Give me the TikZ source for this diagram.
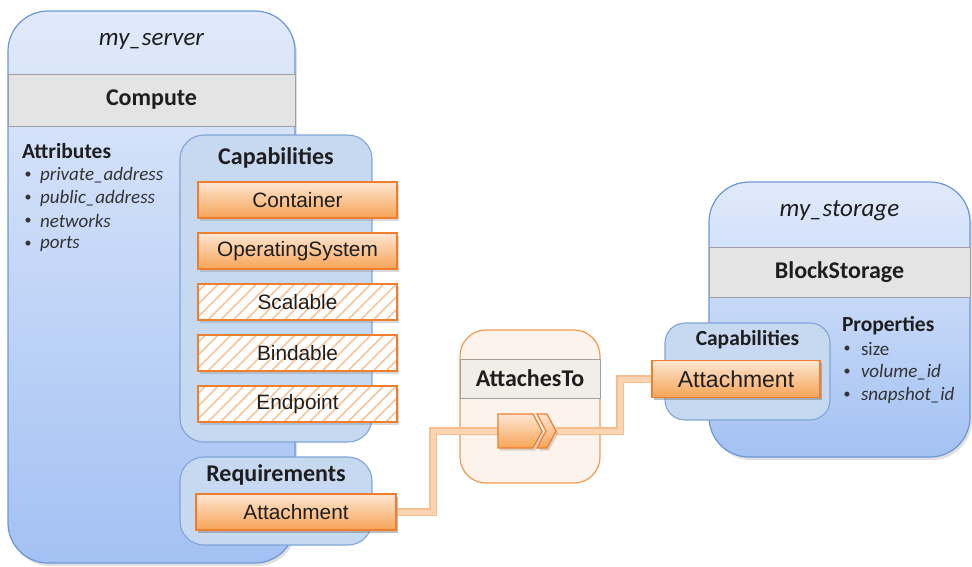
\documentclass[tikz,border=0pt]{standalone}
\usepackage{fontspec}
\setmainfont{Carlito}
\newfontfamily\arialf{Liberation Sans}
\usetikzlibrary{shadows,patterns.meta}
\definecolor{bluebord}{HTML}{6A98D6}
\definecolor{bluetop}{HTML}{E1EAFB}
\definecolor{bluebot}{HTML}{A3C1F3}
\definecolor{capfill}{HTML}{C6D9F1}
\definecolor{capbord}{HTML}{7FA5D6}
\definecolor{bandfill}{HTML}{E4E4E4}
\definecolor{bandbord}{HTML}{A0A0A0}
\definecolor{orbord}{HTML}{EE7F2F}
\definecolor{ortop}{HTML}{FDE6D2}
\definecolor{orbot}{HTML}{F7A457}
\definecolor{hatchc}{HTML}{F7C59B}
\definecolor{relfill}{HTML}{FCF4EC}
\definecolor{relbord}{HTML}{F29A50}
\definecolor{relband}{HTML}{F1EEE8}
\definecolor{connout}{HTML}{F6BE8E}
\definecolor{connin}{HTML}{FAD5B4}
\definecolor{txt}{HTML}{1E1E1E}
\definecolor{itemc}{HTML}{333333}
\newcommand\hdrf{\fontsize{24}{28}\selectfont\bfseries}
\newcommand\namef{\fontsize{25}{29}\selectfont\itshape}
\newcommand\subf{\fontsize{21.5}{25}\selectfont\bfseries}
\newcommand\itemf{\fontsize{19}{22}\selectfont}
\newcommand\labf{\arialf\fontsize{20.8}{24}\selectfont}
\newcommand\biglabf{\arialf\fontsize{23}{27}\selectfont}
\begin{document}
\begin{tikzpicture}[x=1pt,y=-1pt,
  every node/.style={inner sep=0pt,outer sep=0pt,text=txt},
  bigbox/.style={rectangle,rounded corners=40pt,draw=bluebord,line width=1.2pt,
    top color=bluetop,bottom color=bluebot,
    drop shadow={shadow xshift=2pt,shadow yshift=-3pt,opacity=0.25}},
  band/.style={rectangle,draw=bandbord,line width=1pt,fill=bandfill},
  capbox/.style={rectangle,rounded corners=24pt,draw=capbord,line width=1.1pt,fill=capfill},
  obox/.style={rectangle,draw=orbord,line width=1.2pt,top color=ortop,bottom color=orbot,
    drop shadow={shadow xshift=2pt,shadow yshift=-2.5pt,opacity=0.3}},
  hbox/.style={rectangle,draw=orbord,line width=1.2pt,
    preaction={fill=white,drop shadow={shadow xshift=2pt,shadow yshift=-2.5pt,opacity=0.3}},
    pattern={Lines[angle=45,distance=9pt,line width=1.6pt]},pattern color=hatchc},
  relbox/.style={rectangle,rounded corners=26pt,draw=relbord,line width=1.2pt,fill=relfill},
  relband/.style={rectangle,draw=bandbord,line width=1pt,fill=relband},
  connbase/.style={line width=8.5pt,draw=connout,line join=miter},
  conntop/.style={line width=5pt,draw=connin,line join=miter},
  connshadow/.style={line width=8pt,draw=black,opacity=0.12,line join=miter},
  item/.style={anchor=west,text=itemc,font=\itemf\itshape},
  bul/.style={anchor=center,text=itemc,font=\fontsize{14}{16}\selectfont}
]
\useasboundingbox (0,0) rectangle (972,566);

% ---------- my_server ----------
\node[bigbox,minimum width=287pt,minimum height=552pt] (server) at (151.5,287) {};
\node[band,minimum width=287pt,minimum height=52pt] (compute) at (151.5,100) {\hdrf Compute};
\node (servername) at (151.5,41) {\namef my\_server};
\node[anchor=west] (attr) at (22,151) {\subf Attributes};
\foreach \t/\y [count=\i] in {private\_address/175,public\_address/198,networks/221,ports/244}{
  \node[bul] (ab\i) at (28,\y) {\textbullet};
  \node[item] (ai\i) at (40,\y) {\t};
}

\node[capbox,minimum width=192pt,minimum height=307pt] (caps) at (276,288.5) {};
\node (capslab) at (276,158) {\hdrf Capabilities};
\node[obox,minimum width=199pt,minimum height=36pt] (container) at (297.5,200) {\labf Container};
\node[obox,minimum width=199pt,minimum height=36pt] (os) at (297.5,251) {\labf OperatingSystem};
\node[hbox,minimum width=199pt,minimum height=36pt] (scal) at (297.5,302) {\labf Scalable};
\node[hbox,minimum width=199pt,minimum height=36pt] (bind) at (297.5,353) {\labf Bindable};
\node[hbox,minimum width=199pt,minimum height=36pt] (endp) at (297.5,404) {\labf Endpoint};

\node[capbox,minimum width=192pt,minimum height=88pt] (reqs) at (276,501) {};
\node (reqslab) at (276,475) {\hdrf Requirements};
\node[obox,minimum width=200pt,minimum height=36pt] (reqatt) at (296,512) {\labf Attachment};

% ---------- my_storage ----------
\node[bigbox,minimum width=261pt,minimum height=275pt] (storage) at (839.5,319.5) {};
\node[band,minimum width=261pt,minimum height=50pt] (blockst) at (839.5,272) {\hdrf BlockStorage};
\node (storname) at (839.5,211) {\namef my\_storage};
\node[anchor=west] (props) at (842,326) {\subf Properties};
\node[bul] (pb1) at (847,349) {\textbullet};
\node[anchor=west,text=itemc,font=\itemf] (pi1) at (861,349) {size};
\node[bul] (pb2) at (847,372) {\textbullet};
\node[item] (pi2) at (861,372) {volume\_id};
\node[bul] (pb3) at (847,395) {\textbullet};
\node[item] (pi3) at (861,395) {snapshot\_id};

\node[capbox,rounded corners=20pt,minimum width=165pt,minimum height=97pt] (scaps) at (747.5,371.5) {};
\node (scapslab) at (747.5,340) {\subf Capabilities};

% ---------- AttachesTo ----------
\node[relbox,minimum width=140pt,minimum height=153pt] (rel) at (530,406.5) {};
\node[relband,minimum width=140pt,minimum height=39pt] (relname) at (530,378.5) {\hdrf AttachesTo};

\coordinate (bendA) at (433,0);
\coordinate (bendB) at (620,0);
\coordinate (pin) at (498,431);
\coordinate (pout) at (556,431);

\node[obox,minimum width=168pt,minimum height=37pt] (satt) at (736,379) {\biglabf Attachment};

% connectors
\draw[connshadow,shift={(2,3)}] (reqatt.east) -- (reqatt.east -| bendA) |- (pin);
\draw[connshadow,shift={(2,3)}] (pout) -- (pout -| bendB) |- (satt.west);
\foreach \s in {connbase,conntop}{
  \draw[\s] (reqatt.east) -- (reqatt.east -| bendA) |- (pin);
  \draw[\s] (pout) -- (pout -| bendB) |- (satt.west);
}
% redraw the attachments so the connector ends under them
\node[obox,minimum width=168pt,minimum height=37pt] (satt2) at (736,379) {\biglabf Attachment};
\node[obox,minimum width=200pt,minimum height=36pt] (reqatt2) at (296,512) {\labf Attachment};

% relationship symbol
\path[draw=orbord,line width=1.2pt,top color=ortop,bottom color=orbot,
  drop shadow={shadow xshift=2pt,shadow yshift=-2.5pt,opacity=0.3}]
  (498,414) -- (533,414) -- (542,431) -- (533,448) -- (498,448) -- cycle;
\path[draw=orbord,line width=1.2pt,top color=ortop,bottom color=orbot,
  drop shadow={shadow xshift=2pt,shadow yshift=-2.5pt,opacity=0.3}]
  (537,414) -- (547,414) -- (556,431) -- (547,448) -- (537,448) -- (546,431) -- cycle;
\end{tikzpicture}
\end{document}
